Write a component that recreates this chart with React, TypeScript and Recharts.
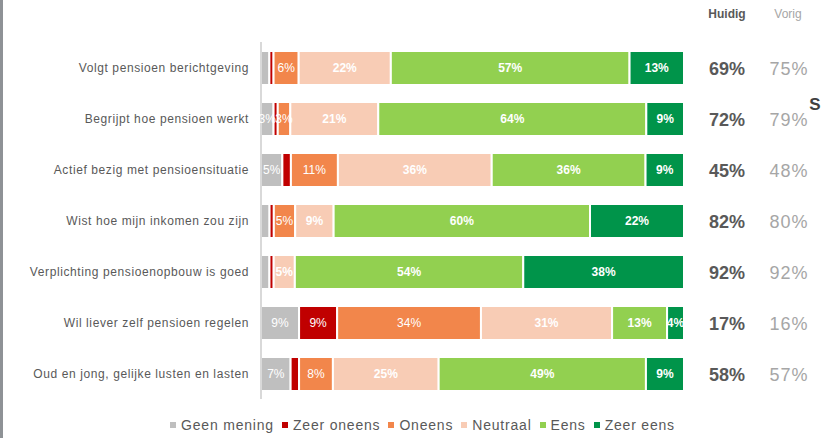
import React from 'react';
import { BarChart, Bar, XAxis, YAxis, Legend, LabelList } from 'recharts';

const categories = [
  'Volgt pensioen berichtgeving',
  'Begrijpt hoe pensioen werkt',
  'Actief bezig met pensioensituatie',
  'Wist hoe mijn inkomen zou zijn',
  'Verplichting pensioenopbouw is goed',
  'Wil liever zelf pensioen regelen',
  'Oud en jong, gelijke lusten en lasten',
];
const geenMening = [2, 3, 5, 2, 2, 9, 7];
const zeerOneens = [1, 1, 2, 1, 1, 9, 2];
const oneens = [6, 3, 11, 5, 0, 34, 8];
const neutraal = [22, 21, 36, 9, 5, 31, 25];
const eens = [57, 64, 36, 60, 54, 13, 49];
const zeerEens = [13, 9, 9, 22, 38, 4, 9];
const huidig = [69, 72, 45, 82, 92, 17, 58];
const vorig = [75, 79, 48, 80, 92, 16, 57];
const markers = ['', 'S', '', '', '', '', ''];

const seriesDefs = [
  { key: 'geen', name: 'Geen mening', values: geenMening, color: '#BFBFBF', bold: false },
  { key: 'zeerOneens', name: 'Zeer oneens', values: zeerOneens, color: '#C00000', bold: false },
  { key: 'oneens', name: 'Oneens', values: oneens, color: '#F2864B', bold: false },
  { key: 'neutraal', name: 'Neutraal', values: neutraal, color: '#F8CCB5', bold: true },
  { key: 'eens', name: 'Eens', values: eens, color: '#92D050', bold: true },
  { key: 'zeerEens', name: 'Zeer eens', values: zeerEens, color: '#00944A', bold: true },
];

const data = categories.map((name, i) => {
  const row: any = { name };
  seriesDefs.forEach((s) => {
    row[s.key] = s.values[i];
  });
  return row;
});

const FONT = "'Liberation Sans', Arial, sans-serif";

const makeLabel = (bold: boolean) => (p: any) => {
  let v: any = p.value;
  if (Array.isArray(v)) v = v[1] - v[0];
  if (v == null || v < 3) return <g />;
  const x = Number(p.x) + Number(p.width) / 2;
  const y = Number(p.y) + Number(p.height) / 2;
  return (
    <text
      x={x}
      y={y}
      textAnchor="middle"
      dominantBaseline="central"
      fill="#FFFFFF"
      fontFamily={FONT}
      fontSize={12}
      fontWeight={bold ? 700 : 400}
    >
      {v}%
    </text>
  );
};

const LeftTick = (p: any) => (
  <text
    x={p.x}
    y={p.y}
    textAnchor="end"
    dominantBaseline="central"
    fill="#595959"
    fontFamily={FONT}
    fontSize={12}
    letterSpacing={0.6}
  >
    {p.payload.value}
  </text>
);

const RightTick = (p: any) => {
  const i = p.payload.index;
  return (
    <g>
      <text x={p.x + 43} y={p.y + 1} textAnchor="middle" dominantBaseline="central" fill="#595959" fontFamily={FONT} fontSize={18} fontWeight={700}>
        {huidig[i]}%
      </text>
      <text x={p.x + 105} y={p.y + 1} textAnchor="middle" dominantBaseline="central" fill="#A6A6A6" fontFamily={FONT} fontSize={18} letterSpacing={1}>
        {vorig[i]}%
      </text>
      {markers[i] ? (
        <text x={p.x + 131} y={p.y - 14} textAnchor="middle" dominantBaseline="central" fill="#404040" fontFamily={FONT} fontSize={17} fontWeight={700}>
          {markers[i]}
        </text>
      ) : null}
    </g>
  );
};

const RightHeader = (p: any) => {
  const vb = p.viewBox || {};
  return (
    <g>
      <text x={vb.x + 43} y={14} textAnchor="middle" dominantBaseline="central" fill="#595959" fontFamily={FONT} fontSize={12} fontWeight={700}>
        Huidig
      </text>
      <text x={vb.x + 104} y={14} textAnchor="middle" dominantBaseline="central" fill="#A6A6A6" fontFamily={FONT} fontSize={12}>
        Vorig
      </text>
    </g>
  );
};

const LegendContent = () => (
  <div style={{ display: 'flex', justifyContent: 'center', alignItems: 'center', height: 20, fontFamily: FONT, fontSize: 14, color: '#595959', letterSpacing: 0.8, paddingLeft: 22 }}>
    {seriesDefs.map((s) => (
      <div key={s.key} style={{ display: 'flex', alignItems: 'center', marginRight: 8 }}>
        <span style={{ display: 'inline-block', width: 6, height: 6, background: s.color, marginRight: 5 }} />
        <span>{s.name}</span>
      </div>
    ))}
  </div>
);

export default function App() {
  return (
    <div style={{ position: 'absolute', left: 0, top: 0, width: 828, height: 438, background: '#FFFFFF', borderLeft: '3px solid #8E9296', boxSizing: 'border-box' }}>
      <BarChart
        width={825}
        height={438}
        data={data}
        layout="vertical"
        stackOffset="expand"
        margin={{ top: 42, right: 0, bottom: 19, left: 0 }}
        barSize={34}
      >
        <XAxis type="number" hide domain={[0, 1]} />
        <YAxis
          yAxisId="left"
          type="category"
          dataKey="name"
          width={258}
          axisLine={{ stroke: '#D9D9D9', strokeWidth: 2 }}
          tickLine={false}
          tickSize={0}
          tickMargin={12}
          tick={<LeftTick />}
          interval={0}
        />
        <YAxis
          yAxisId="right"
          orientation="right"
          type="category"
          dataKey="name"
          width={144}
          axisLine={false}
          tickLine={false}
          tickSize={0}
          tickMargin={0}
          tick={<RightTick />}
          interval={0}
          label={<RightHeader />}
        />
        <Legend
          verticalAlign="bottom"
          content={<LegendContent />}
          wrapperStyle={{ bottom: 3, height: 20, left: 0, width: 825 }}
        />
        {seriesDefs.map((s) => (
          <Bar
            key={s.key}
            yAxisId="left"
            dataKey={s.key}
            name={s.name}
            stackId="a"
            fill={s.color}
            stroke="#FFFFFF"
            strokeWidth={2}
            isAnimationActive={false}
          >
            <LabelList dataKey={s.key} content={makeLabel(s.bold)} />
          </Bar>
        ))}
      </BarChart>
    </div>
  );
}
